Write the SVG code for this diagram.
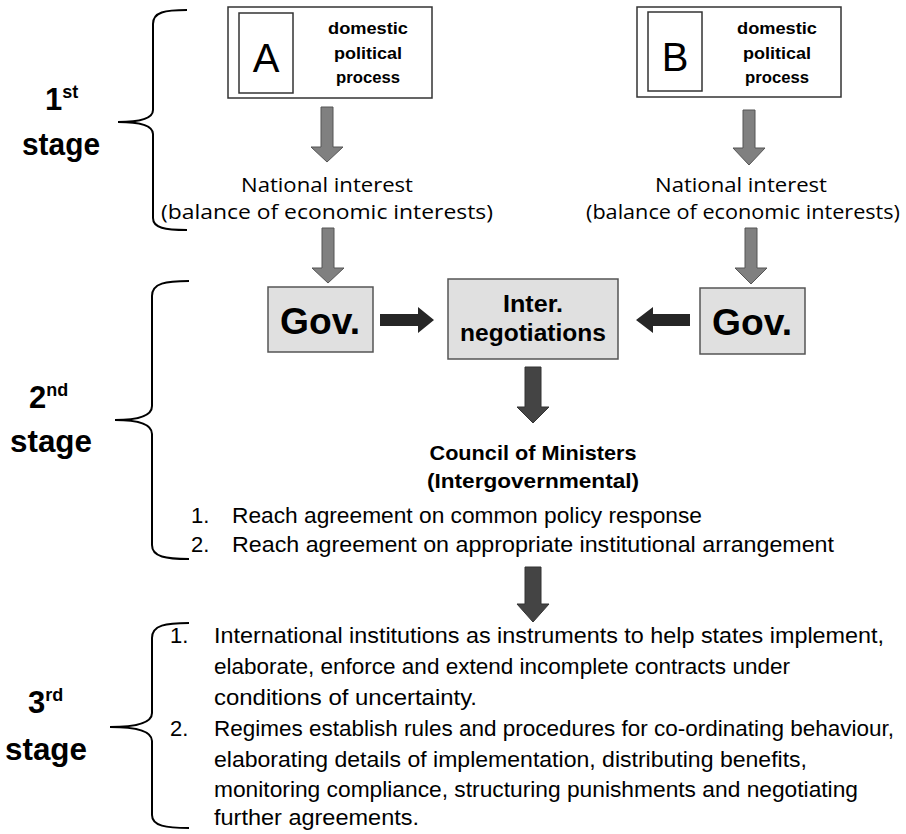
<svg xmlns="http://www.w3.org/2000/svg" width="906" height="834" viewBox="0 0 906 834">
<style>
text{font-family:"Liberation Sans Narrow","Liberation Sans",Arial,sans-serif;fill:#000}
.b{font-weight:bold}
.stage{font-size:31px;font-weight:bold}
.sup{font-size:18px;font-weight:bold}
.box{fill:#fff;stroke:#333;stroke-width:1.5}
.gbox{fill:#e0e0e0;stroke:#555;stroke-width:1.5}
.brace{fill:none;stroke:#000;stroke-width:2}
.ga{fill:#808080;stroke:#555;stroke-width:1}
.da{fill:#444;stroke:#333;stroke-width:1}
.ka{fill:#262626}
.dp{font-size:17px;font-weight:bold;font-family:"Liberation Sans",Arial,sans-serif}
.ni{font-size:20px;font-family:"Open Sans","Liberation Sans",sans-serif}
.t{font-size:22px}
.t3{font-size:22px}
</style>
<rect width="906" height="834" fill="#fff"/>
<g id="stage-labels">
<text x="45" y="110" class="stage">1<tspan class="sup" dy="-12">st</tspan></text>
<text x="22" y="155" class="stage" textLength="78" lengthAdjust="spacingAndGlyphs">stage</text>
<text x="29" y="408" class="stage">2<tspan class="sup" dy="-12">nd</tspan></text>
<text x="10" y="452" class="stage" textLength="82" lengthAdjust="spacingAndGlyphs">stage</text>
<text x="28" y="713" class="stage">3<tspan class="sup" dy="-12">rd</tspan></text>
<text x="5" y="760" class="stage" textLength="82" lengthAdjust="spacingAndGlyphs">stage</text>
</g>
<g id="braces">
<path class="brace" d="M187,10 C165,10 153,12 153,24 L153,110 C153,118 142,122 118,122 C142,122 153,126 153,134 L153,218 C153,228 165,230 187,230"/>
<path class="brace" d="M189,281 C166,281 152,283 152,296 L152,406 C152,415 140,420 115,420 C140,420 152,425 152,434 L152,545 C152,557 166,559 189,559"/>
<path class="brace" d="M189,623 C166,623 152,625 152,638 L152,713 C152,722 138,727 110,727 C138,727 152,732 152,741 L152,815 C152,826 166,828 189,828"/>
</g>
<g id="nodeA">
<rect class="box" x="228" y="7" width="204" height="91"/>
<rect class="box" x="239" y="13" width="54" height="80"/>
<text x="266" y="72" text-anchor="middle" font-size="40" font-family="Liberation Sans,Arial,sans-serif">A</text>
<text x="368" y="34" text-anchor="middle" class="dp" textLength="80" lengthAdjust="spacingAndGlyphs">domestic</text>
<text x="368" y="59" text-anchor="middle" class="dp" textLength="68" lengthAdjust="spacingAndGlyphs">political</text>
<text x="368" y="83" text-anchor="middle" class="dp" textLength="64" lengthAdjust="spacingAndGlyphs">process</text>
</g>
<g id="nodeB">
<rect class="box" x="637" y="7" width="204" height="90"/>
<rect class="box" x="648" y="12" width="54" height="79"/>
<text x="675" y="71" text-anchor="middle" font-size="40" font-family="Liberation Sans,Arial,sans-serif">B</text>
<text x="777" y="34" text-anchor="middle" class="dp" textLength="80" lengthAdjust="spacingAndGlyphs">domestic</text>
<text x="777" y="59" text-anchor="middle" class="dp" textLength="68" lengthAdjust="spacingAndGlyphs">political</text>
<text x="777" y="83" text-anchor="middle" class="dp" textLength="64" lengthAdjust="spacingAndGlyphs">process</text>
</g>
<g id="interestA">
<text x="327" y="192" text-anchor="middle" class="ni" textLength="172" lengthAdjust="spacingAndGlyphs">National interest</text>
<text x="327" y="219" text-anchor="middle" class="ni" textLength="332" lengthAdjust="spacingAndGlyphs">(balance of economic interests)</text>
</g>
<g id="interestB">
<text x="741" y="192" text-anchor="middle" class="ni" textLength="172" lengthAdjust="spacingAndGlyphs">National interest</text>
<text x="743" y="219" text-anchor="middle" class="ni" textLength="314" lengthAdjust="spacingAndGlyphs">(balance of economic interests)</text>
</g>
<g id="govA">
<rect class="gbox" x="268" y="287" width="105" height="65"/>
<text x="320" y="334" text-anchor="middle" class="b" font-size="37" textLength="80" lengthAdjust="spacingAndGlyphs">Gov.</text>
</g>
<g id="inter">
<rect class="gbox" x="448" y="279" width="170" height="80"/>
<text x="533" y="312" text-anchor="middle" class="b" font-size="23" textLength="60" lengthAdjust="spacingAndGlyphs">Inter.</text>
<text x="533" y="341" text-anchor="middle" class="b" font-size="23" textLength="146" lengthAdjust="spacingAndGlyphs">negotiations</text>
</g>
<g id="govB">
<rect class="gbox" x="700" y="288" width="105" height="66"/>
<text x="752" y="335" text-anchor="middle" class="b" font-size="37" textLength="80" lengthAdjust="spacingAndGlyphs">Gov.</text>
</g>
<g id="council">
<text x="533" y="460" text-anchor="middle" class="b" font-size="21" textLength="207" lengthAdjust="spacingAndGlyphs">Council of Ministers</text>
<text x="533" y="488" text-anchor="middle" class="b" font-size="21" textLength="212" lengthAdjust="spacingAndGlyphs">(Intergovernmental)</text>
<text x="191" y="523" class="t">1.</text>
<text x="232" y="523" class="t" textLength="470" lengthAdjust="spacingAndGlyphs">Reach agreement on common policy response</text>
<text x="191" y="552" class="t">2.</text>
<text x="232" y="552" class="t" textLength="602" lengthAdjust="spacingAndGlyphs">Reach agreement on appropriate institutional arrangement</text>
</g>
<g id="stage3">
<text x="170" y="643" class="t3">1.</text>
<text x="214" y="643" class="t3" textLength="670" lengthAdjust="spacingAndGlyphs">International institutions as instruments to help states implement,</text>
<text x="214" y="674" class="t3" textLength="576" lengthAdjust="spacingAndGlyphs">elaborate, enforce and extend incomplete contracts under</text>
<text x="214" y="705" class="t3" textLength="263" lengthAdjust="spacingAndGlyphs">conditions of uncertainty.</text>
<text x="170" y="736" class="t3">2.</text>
<text x="214" y="736" class="t3" textLength="680" lengthAdjust="spacingAndGlyphs">Regimes establish rules and procedures for co-ordinating behaviour,</text>
<text x="214" y="767" class="t3" textLength="593" lengthAdjust="spacingAndGlyphs">elaborating details of implementation, distributing benefits,</text>
<text x="214" y="797" class="t3" textLength="644" lengthAdjust="spacingAndGlyphs">monitoring compliance, structuring punishments and negotiating</text>
<text x="214" y="825" class="t3" textLength="205" lengthAdjust="spacingAndGlyphs">further agreements.</text>
</g>
<g id="connectors">
<polygon class="ga" points="321,107 333,107 333,147 343,147 327,162 311,147 321,147"/>
<polygon class="ga" points="743,110 755,110 755,148 765,148 749,165 733,148 743,148"/>
<polygon class="ga" points="322,228 334,228 334,268 344,268 328,283 312,268 322,268"/>
<polygon class="ga" points="745,228 757,228 757,268 767,268 751,284 735,268 745,268"/>
<polygon class="ka" points="380,314 418,314 418,307 434,320 418,333 418,326 380,326"/>
<polygon class="ka" points="690,314 653,314 653,307 636,320 653,333 653,326 690,326"/>
<polygon class="da" points="525,367 541,367 541,407 549,407 533,423 517,407 525,407"/>
<polygon class="da" points="525,567 541,567 541,604 549,604 533,622 517,604 525,604"/>
</g>
</svg>
